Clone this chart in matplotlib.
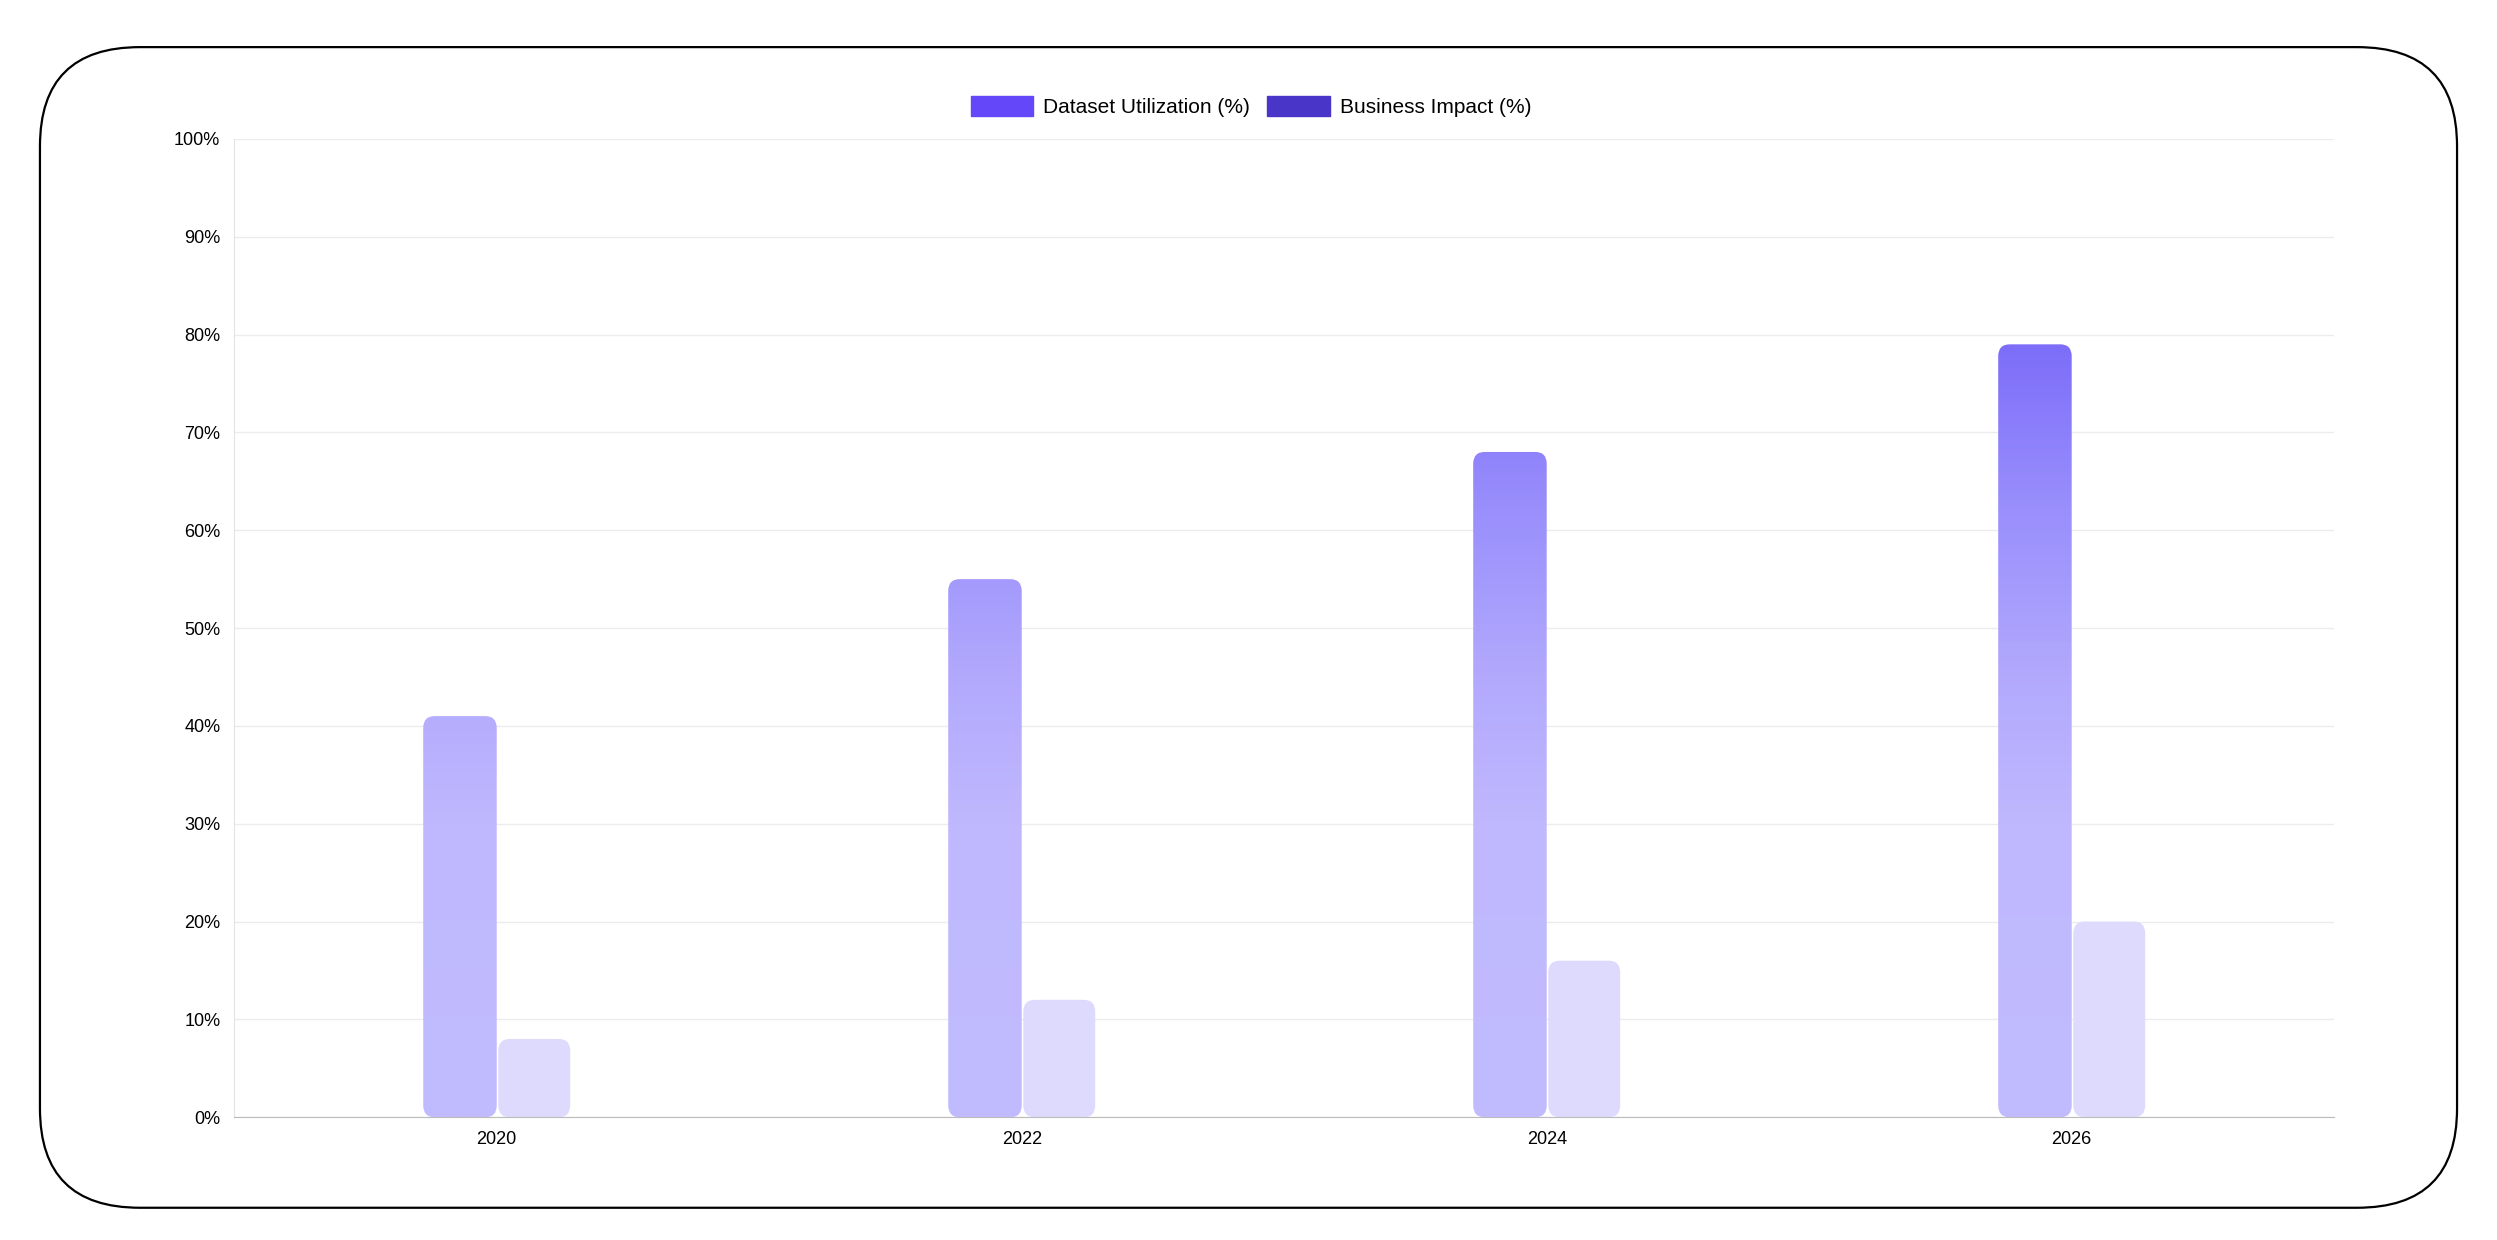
import numpy as np
import matplotlib
matplotlib.use("Agg")
import matplotlib.pyplot as plt
from matplotlib.patches import FancyBboxPatch, Rectangle
from matplotlib.colors import LinearSegmentedColormap, Normalize

years = ["2020", "2022", "2024", "2026"]
utilization = [41, 55, 68, 79]
impact = [8, 12, 16, 20]

plt.rcParams["font.family"] = ["Liberation Sans", "DejaVu Sans"]

fig = plt.figure(figsize=(24.97, 12.40), dpi=100)
ax = fig.add_axes([0.0938, 0.099, 0.841, 0.789])

# outer rounded frame
frame = FancyBboxPatch((0.016, 0.026), 0.968, 0.936,
                       boxstyle="round,pad=0,rounding_size=0.04",
                       mutation_aspect=2.0, transform=fig.transFigure,
                       fill=False, edgecolor="black", linewidth=1.6)
fig.patches.append(frame)

grad = LinearSegmentedColormap.from_list(
    "g", [(0.0, "#c1bbfe"), (0.3, "#bfb8fe"), (0.45, "#b2a9fd"),
          (0.62, "#9a8ffc"), (0.8, "#7c6cf9"), (1.0, "#6a58f7")])
norm = Normalize(0, 100)

w = 0.14
rs = 0.022
asp = 55
for i, (u, b) in enumerate(zip(utilization, impact)):
    x0 = i - w
    p = FancyBboxPatch((x0, 0), w, u, boxstyle=f"round,pad=0,rounding_size={rs}",
                       mutation_aspect=asp, facecolor="none", edgecolor="none")
    ax.add_patch(p)
    yy = np.linspace(u, 0, 200).reshape(-1, 1)
    im = ax.imshow(yy, cmap=grad, norm=norm, extent=(x0, x0 + w, 0, u),
                   aspect="auto", zorder=2)
    im.set_clip_path(p)
    ax.add_patch(FancyBboxPatch((i + 0.003, 0), w - 0.003, b,
                                boxstyle=f"round,pad=0,rounding_size={rs}",
                                mutation_aspect=asp, facecolor="#dedafd",
                                edgecolor="none", zorder=2))

ax.set_xlim(-0.5, 3.5)
ax.set_ylim(0, 100)
ax.set_xticks(range(len(years)))
ax.set_xticklabels(years)
ax.set_yticks(range(0, 101, 10))
ax.set_yticklabels([f"{v}%" for v in range(0, 101, 10)])
ax.tick_params(length=0, labelsize=13, pad=10)
ax.grid(axis="y", color="#ececec", linewidth=1)
ax.set_axisbelow(True)
for s in ["top", "right"]:
    ax.spines[s].set_visible(False)
ax.spines["left"].set_color("#e4e4e4")
ax.spines["bottom"].set_color("#bbbbbb")

handles = [Rectangle((0, 0), 1, 1, color="#6347f9"),
           Rectangle((0, 0), 1, 1, color="#4a35c9")]
fig.legend(handles, ["Dataset Utilization (%)", "Business Impact (%)"],
           loc="center", bbox_to_anchor=(0.501, 0.914), ncol=2, frameon=False,
           fontsize=15, handlelength=3.0, handleheight=1.1, columnspacing=0.8,
           handletextpad=0.5)

fig.savefig("out.png", dpi=100)
